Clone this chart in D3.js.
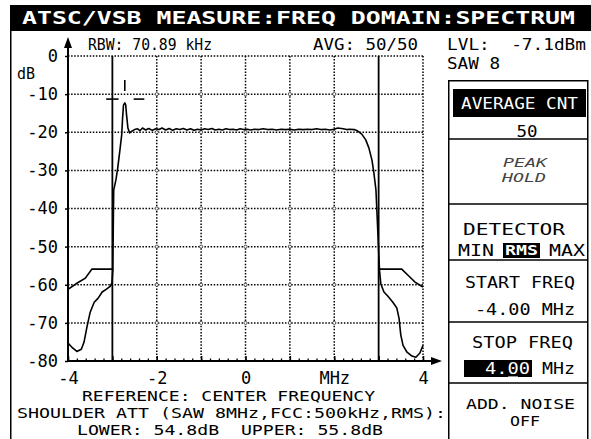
<!DOCTYPE html>
<html>
<head>
<meta charset="utf-8">
<script src="https://cdn.jsdelivr.net/npm/d3@7"></script>
<style>
  body { margin: 0; background: #fff; }
  svg { display: block; }
  text { white-space: pre; }
</style>
</head>
<body>
<div id="chart"></div>
<script>
// spectrum trace, MHz / dB
const traceFreq = [-4.00,-3.91,-3.80,-3.70,-3.64,-3.57,-3.50,-3.41,-3.32,-3.23,-3.14,-3.05,-3.01,-2.99,-2.98,-2.97,
  -2.92,-2.88,-2.83,-2.79,-2.77,-2.75,-2.72,-2.70,-2.68,-2.65,-2.61,-2.56,-2.50,-2.43,-2.38,-2.32,-2.25,-2.18,
  -2.10,-2.02,-1.95,-1.88,-1.80,-1.72,-1.64,-1.56,-1.48,-1.40,-1.32,-1.24,-1.16,-1.08,-1.00,-0.92,-0.84,-0.76,
  -0.68,-0.60,-0.52,-0.44,-0.36,-0.28,-0.20,-0.12,-0.04,0.04,0.12,0.20,0.30,0.40,0.50,0.60,0.70,0.80,0.90,1.00,
  1.10,1.20,1.30,1.40,1.50,1.60,1.70,1.80,1.90,2.00,2.08,2.20,2.28,2.35,2.45,2.53,2.62,2.71,2.78,2.85,2.89,2.94,
  2.96,2.98,3.00,3.02,3.05,3.12,3.21,3.32,3.41,3.46,3.50,3.55,3.64,3.75,3.84,3.93,4.00];
const traceLevel = [-75.3,-76.4,-77.5,-76.9,-75.1,-70.9,-67.2,-64.6,-63.5,-61.9,-61.2,-60.4,-59.6,-56.2,-45.0,-35.2,
  -32.5,-29.4,-24.7,-20.7,-16.3,-12.9,-12.3,-12.8,-15.5,-18.9,-20.2,-19.7,-19.3,-19.1,-19.6,-18.9,-19.4,-19.0,
  -19.5,-19.1,-19.3,-18.9,-19.4,-19.0,-19.5,-19.1,-19.3,-19.0,-19.4,-19.1,-19.5,-19.2,-19.4,-19.1,-19.3,-19.0,
  -19.4,-19.2,-19.4,-19.1,-19.3,-19.2,-19.4,-19.1,-19.3,-19.2,-19.4,-19.2,-19.3,-19.1,-19.3,-19.2,-19.4,-19.2,-19.3,-19.2,
  -19.4,-19.2,-19.3,-19.2,-19.3,-19.1,-19.3,-19.2,-19.4,-19.2,-18.9,-19.1,-19.3,-19.2,-19.3,-19.7,-20.5,-22.0,-24.1,-27.3,-30.4,-35.2,
  -40.4,-45.7,-50.9,-56.2,-59.8,-61.9,-63.0,-64.6,-66.1,-68.8,-73.2,-75.9,-77.7,-78.7,-79.0,-77.9,-75.9];

// shoulder lines
const shoulderLowFreq = [-4.00,-3.80,-3.61,-3.46,-2.98];
const shoulderLowLevel = [-61.2,-59.6,-58.3,-55.9,-55.9];
const shoulderHighFreq = [3.01,3.52,3.68,3.82,4.00];
const shoulderHighLevel = [-55.9,-55.9,-57.7,-59.3,-60.6];

const levelTicks = [0,-10,-20,-30,-40,-50,-60,-70,-80];
const gridLevels = [0,-10,-20,-30,-40,-50,-60,-70];
const gridFreqs = [-2,-1,0,1,2,4];
const edgeFreqs = [-3,3];
const freqTicks = [-4,-2,0,2,4];
const freqTickLabels = ["-4","-2","0","MHz","4"];

const W = 591, H = 439;
const mono = "'DejaVu Sans Mono', monospace";

const svg = d3.select("#chart").append("svg")
  .attr("width", W).attr("height", H);

const x = d3.scaleLinear().domain([-4,4]).range([68,423]);
const y = d3.scaleLinear().domain([-80,0]).range([361,56]);

function txt(str, px, cy, o = {}){
  const size = o.size || 16;
  const t = svg.append("text")
    .attr("x", px).attr("y", cy + size * 0.36)
    .attr("font-family", mono)
    .attr("font-size", size)
    .attr("text-anchor", o.anchor || "start")
    .attr("fill", o.fill || "#000")
    .text(str);
  if(o.len) t.attr("textLength", o.len).attr("lengthAdjust","spacingAndGlyphs");
  if(o.weight) t.attr("font-weight", o.weight);
  if(o.italic) t.attr("font-style","italic");
  return t;
}

// title bar + frame
svg.append("rect").attr("x",10).attr("y",5).attr("width",581).attr("height",26).attr("fill","#000");
txt("ATSC/VSB MEASURE:FREQ DOMAIN:SPECTRUM", 22, 17.5, {size:17, fill:"#fff", weight:"bold", len:553});
svg.append("line").attr("x1",10.75).attr("x2",10.75).attr("y1",30).attr("y2",H)
  .attr("stroke","#000").attr("stroke-width",1.5);

// grid
const plot = svg.append("g");
plot.selectAll(".hgrid").data(gridLevels).join("line")
  .attr("class","hgrid")
  .attr("x1",x(-4)).attr("x2",x(4))
  .attr("y1",d=>y(d)).attr("y2",d=>y(d))
  .attr("stroke","#000").attr("stroke-width",1.5).attr("stroke-dasharray","1.5,1.6");
plot.selectAll(".vgrid").data(gridFreqs).join("line")
  .attr("class","vgrid")
  .attr("x1",d=>x(d)).attr("x2",d=>x(d))
  .attr("y1",y(0)).attr("y2",y(-80))
  .attr("stroke","#000").attr("stroke-width",1.5).attr("stroke-dasharray","1.5,1.6");

const nodes = [];
gridFreqs.filter(f=>f!==4).forEach(f=>gridLevels.filter(l=>l<0).forEach(l=>nodes.push([f,l])));
plot.selectAll(".node").data(nodes).join("circle")
  .attr("class","node")
  .attr("cx",d=>x(d[0])).attr("cy",d=>y(d[1])).attr("r",1.6)
  .attr("fill","#fff").attr("stroke","#333").attr("stroke-width",0.8);

plot.selectAll(".edge").data(edgeFreqs).join("line")
  .attr("class","edge")
  .attr("x1",d=>x(d)).attr("x2",d=>x(d))
  .attr("y1",y(0)).attr("y2",y(-80))
  .attr("stroke","#000").attr("stroke-width",1.8);

// axes
const yAxis = svg.append("g")
  .attr("transform",`translate(${x(-4)},0)`)
  .call(d3.axisLeft(y).tickValues(levelTicks).tickSize(3).tickPadding(7).tickFormat(d=>String(d)));
yAxis.select(".domain").remove();
yAxis.selectAll("text").attr("font-family",mono).attr("font-size",17).attr("fill","#000");
yAxis.selectAll("line").attr("stroke","#000").attr("stroke-width",1.5);

const xTicksUp = svg.append("g")
  .attr("transform",`translate(0,${y(-80)})`)
  .call(d3.axisTop(x).ticks(40).tickSize(2.5).tickFormat(""));
xTicksUp.select(".domain").remove();
xTicksUp.selectAll("line").attr("stroke","#000").attr("stroke-width",1.3);

const xMajor = svg.append("g")
  .attr("transform",`translate(0,${y(-80)})`)
  .call(d3.axisTop(x).ticks(8).tickSize(5).tickFormat(""));
xMajor.select(".domain").remove();
xMajor.selectAll("line").attr("stroke","#000").attr("stroke-width",1.5);

const xAxis = svg.append("g")
  .attr("transform",`translate(0,${y(-80)})`)
  .call(d3.axisBottom(x).tickValues(freqTicks).tickSize(0).tickPadding(11)
    .tickFormat((d,i)=>freqTickLabels[i]));
xAxis.select(".domain").remove();
xAxis.selectAll("text").attr("font-family",mono).attr("font-size",17).attr("fill","#000");

svg.append("line").attr("x1",x(-4)).attr("x2",x(-4)).attr("y1",44).attr("y2",y(-80))
  .attr("stroke","#000").attr("stroke-width",2);
svg.append("path").attr("d",`M${x(-4)},37 L${x(-4)-4},48 L${x(-4)+4},48 Z`).attr("fill","#000");
svg.append("line").attr("x1",x(-4)).attr("x2",432).attr("y1",y(-80)).attr("y2",y(-80))
  .attr("stroke","#000").attr("stroke-width",2);
svg.append("path").attr("d",`M442,${y(-80)} L431,${y(-80)-4} L431,${y(-80)+4} Z`).attr("fill","#000");

// traces
const line = d3.line().x(d=>x(d[0])).y(d=>y(d[1]));
svg.append("path")
  .datum(traceFreq.map((f,i)=>[f,traceLevel[i]]))
  .attr("d",line).attr("fill","none").attr("stroke","#000").attr("stroke-width",1.6)
  .attr("stroke-linejoin","round");
[[shoulderLowFreq,shoulderLowLevel],[shoulderHighFreq,shoulderHighLevel]].forEach(([fs,ls])=>{
  svg.append("path")
    .datum(fs.map((f,i)=>[f,ls[i]]))
    .attr("d",line).attr("fill","none").attr("stroke","#000").attr("stroke-width",1.6);
});

// peak marker
const mk = svg.append("g").attr("stroke","#000").attr("stroke-width",1.6);
mk.append("line").attr("x1",x(-2.72)).attr("x2",x(-2.72)).attr("y1",y(-6.3)).attr("y2",y(-9.2));
mk.append("line").attr("x1",x(-3.14)).attr("x2",x(-2.86)).attr("y1",y(-11.3)).attr("y2",y(-11.3));
mk.append("line").attr("x1",x(-2.52)).attr("x2",x(-2.28)).attr("y1",y(-11.3)).attr("y2",y(-11.3));

// header texts
txt("dB", 17, 73, {len:18});
txt("RBW: 70.89 kHz", 88, 44, {len:124});
txt("AVG: 50/50", 313, 44, {len:105});
txt("LVL:  -7.1dBm", 447, 44, {len:139});
txt("SAW 8", 447, 63, {len:53});

// footer texts
txt("REFERENCE: CENTER FREQUENCY", 82, 396, {size:14, len:293});
txt("SHOULDER ATT (SAW 8MHz,FCC:500kHz,RMS):", 17, 413, {size:14, len:429});
txt("LOWER: 54.8dB  UPPER: 55.8dB", 77, 430, {size:14, len:306});

// softkey panel
const panelSeps = [139,204,260,322,383];
svg.append("rect").attr("x",448.75).attr("y",80.75).attr("width",139).attr("height",H)
  .attr("fill","none").attr("stroke","#000").attr("stroke-width",1.5);
svg.selectAll(".sep").data(panelSeps).join("line")
  .attr("class","sep")
  .attr("x1",448).attr("x2",588).attr("y1",d=>d).attr("y2",d=>d)
  .attr("stroke","#000").attr("stroke-width",1.5);

svg.append("rect").attr("x",453).attr("y",89).attr("width",133).attr("height",28).attr("fill","#000");
txt("AVERAGE CNT", 461, 103, {fill:"#fff", len:117});
txt("50", 527, 131, {anchor:"middle", len:21});
txt("PEAK", 525, 162, {anchor:"middle", size:13, italic:true, fill:"#444", len:44});
txt("HOLD", 524, 177, {anchor:"middle", size:13, italic:true, fill:"#444", len:44});
txt("DETECTOR", 463, 229, {len:102});
txt("MIN", 458, 250, {len:36});
svg.append("rect").attr("x",503).attr("y",243).attr("width",37).attr("height",15).attr("fill","#000");
txt("RMS", 505, 250, {size:14, fill:"#fff", len:33, weight:"bold"});
txt("MAX", 549, 250, {len:36});
txt("START FREQ", 465, 282, {len:110});
txt("-4.00 MHz", 475, 309, {len:100});
txt("STOP FREQ", 472, 342, {len:101});
svg.append("rect").attr("x",464).attr("y",360).attr("width",68).attr("height",17).attr("fill","#000");
txt("4.00", 485, 368, {fill:"#fff", len:45});
svg.append("line").attr("x1",508).attr("x2",518).attr("y1",377).attr("y2",377)
  .attr("stroke","#fff").attr("stroke-width",1.2);
txt("MHz", 542, 368, {len:33});
txt("ADD. NOISE", 466, 404, {size:14, len:109});
txt("OFF", 510, 421, {size:14, len:30});
</script>
</body>
</html>
